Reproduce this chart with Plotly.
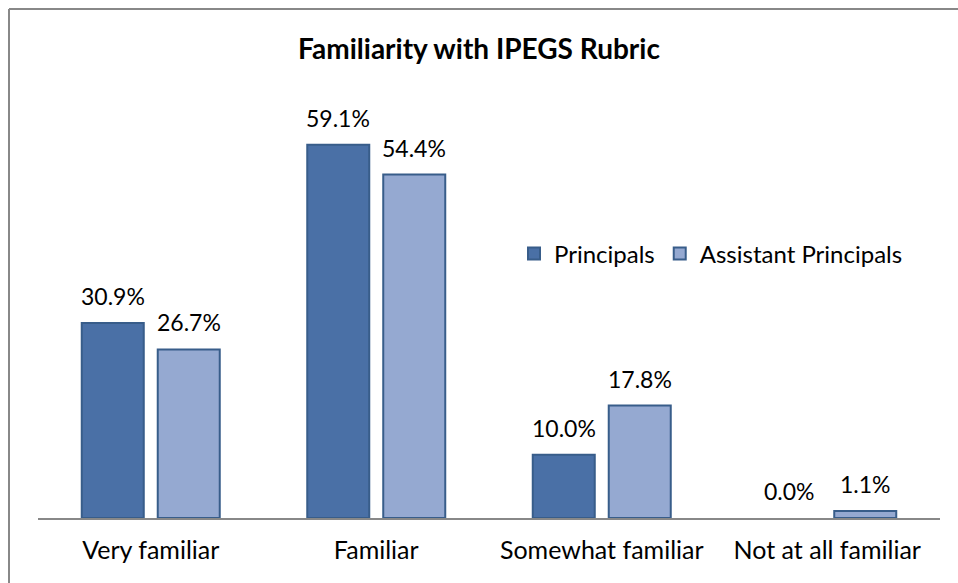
import plotly.graph_objects as go

categories = ["Very familiar", "Familiar", "Somewhat familiar", "Not at all familiar"]
principals = [30.9, 59.1, 10.0, 0.0]
assistant_principals = [26.7, 54.4, 17.8, 1.1]
series_names = ["Principals", "Assistant Principals"]

W, H = 958, 583
L, R, T, B = 38, 18, 76, 65
pw = W - L - R
ph = H - T - B

fontfam = "Lato, 'Open Sans', sans-serif"
colors = ["#4A70A6", "#95A9D1"]

fig = go.Figure()
for name, vals, col in zip(series_names, [principals, assistant_principals], colors):
    fig.add_trace(go.Bar(
        x=categories, y=vals, name=name,
        marker=dict(color=col, line=dict(color="#385D8A",
                                         width=[2 if v > 0 else 0 for v in vals])),
    ))

# data labels above bars
for vals, xs in [(principals, -38), (assistant_principals, 38)]:
    for c, v in zip(categories, vals):
        fig.add_annotation(x=c, y=v, xref="x", yref="y", text=f"{v:.1f}%",
                           showarrow=False, xshift=xs, yshift=11,
                           yanchor="bottom", xanchor="center",
                           font=dict(size=23, color="#000000", family=fontfam))

# outer frame (top and left visible)
fig.add_shape(type="line", xref="paper", yref="paper",
              x0=(9 - L) / pw, x1=(W + 5 - L) / pw,
              y0=(H - B - 9) / ph, y1=(H - B - 9) / ph,
              line=dict(color="#888888", width=2))
fig.add_shape(type="line", xref="paper", yref="paper",
              x0=(9 - L) / pw, x1=(9 - L) / pw,
              y0=(H - B - 9) / ph, y1=(-B - 10) / ph,
              line=dict(color="#888888", width=2))

fig.update_layout(
    width=W, height=H,
    margin=dict(l=L, r=R, t=T, b=B),
    paper_bgcolor="white", plot_bgcolor="white",
    barmode="group", bargap=0.326, bargroupgap=0.184,
    title=dict(text="<b>Familiarity with IPEGS Rubric</b>", x=0.5, xanchor="center",
               y=1 - 49 / H, yanchor="middle",
               font=dict(size=28, color="#000000", family=fontfam)),
    font=dict(family=fontfam, color="#000000"),
    legend=dict(orientation="h", x=(514 - L) / pw, xanchor="left",
                y=(H - B - 254) / ph, yanchor="middle",
                font=dict(size=24, color="#000000", family=fontfam),
                bgcolor="rgba(0,0,0,0)", itemwidth=30, traceorder="normal"),
    xaxis=dict(showline=True, linecolor="#888888", linewidth=2, ticks="",
               ticklabelstandoff=9,
               tickfont=dict(size=25, color="#000000", family=fontfam),
               showgrid=False, zeroline=False),
    yaxis=dict(range=[0, 70], visible=False, showgrid=False, zeroline=False),
)

fig.write_html("out.html", config={"displayModeBar": False},
               post_script="document.body.style.margin='0';")
